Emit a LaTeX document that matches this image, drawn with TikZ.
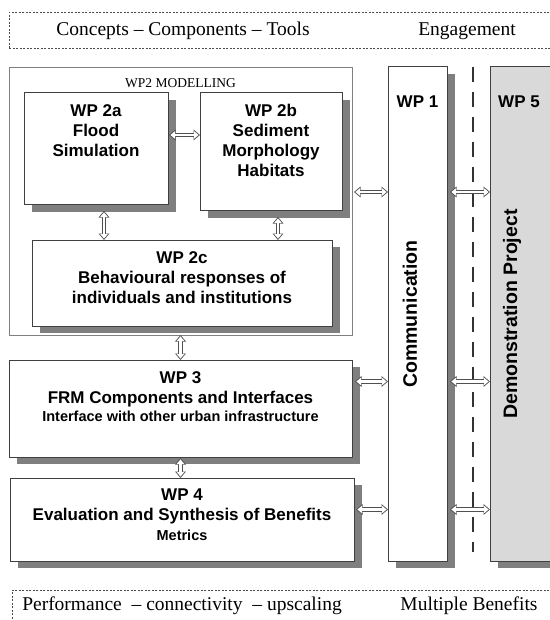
\documentclass[tikz,border=0pt]{standalone}
\usepackage{fontspec}
\setmainfont{Liberation Serif}
\setsansfont{Liberation Sans}
\usetikzlibrary{arrows.meta}
\usetikzlibrary{shadows}
\usetikzlibrary{positioning}

\definecolor{boxline}{HTML}{404040}
\definecolor{shade}{HTML}{7F7F7F}
\definecolor{demo}{HTML}{D9D9D9}
\definecolor{linkline}{HTML}{505050}

\begin{document}
\begin{tikzpicture}[x=1pt, y=-1pt,
      wpbox/.style ={rectangle, draw=boxline, line width=1pt, fill=white, anchor=north west,
                     inner sep=0pt, outer sep=0pt,
                     drop shadow={shadow xshift=8pt, shadow yshift=-7pt, fill=shade, opacity=1}},
      frame/.style ={rectangle, draw=gray, line width=0.8pt, anchor=north west, inner sep=0pt, outer sep=0pt},
      band/.style  ={rectangle, draw=black!70, line width=0.8pt, dash pattern=on 2pt off 1.5pt,
                     anchor=north west, inner sep=0pt},
      wptitle/.style={anchor=north, align=center, inner ysep=11pt,
                     font=\sffamily\bfseries\fontsize{17}{20}\selectfont},
      wpside/.style={rotate=90, font=\sffamily\bfseries\fontsize{19.5}{22}\selectfont},
      bandtext/.style={font=\fontsize{19.5}{22}\selectfont},
      link/.style  ={draw=white, line width=2.6pt, shorten <=1.4pt, shorten >=1.4pt,
                     {Triangle[width=7.4pt,length=4.6pt]}-{Triangle[width=7.4pt,length=4.6pt]},
                     preaction={draw=linkline, line width=4.4pt, shorten <=0pt, shorten >=0pt,
                     {Triangle[width=10.5pt,length=6.5pt]}-{Triangle[width=10.5pt,length=6.5pt]}}},
      divider/.style={draw=gray!40!black, line width=1.5pt, dash pattern=on 15pt off 10pt}
    ]
    \useasboundingbox (0,0) rectangle (549,620);

    % bands
    \node [band, minimum width=560pt, minimum height=36pt] (topband) at (9,12) {};
    \node [bandtext] (concepts) at (183,31) {Concepts -- Components -- Tools};
    \node [bandtext] (engage) at (467,31) {Engagement};
    \node [band, minimum width=560pt, minimum height=40pt] (botband) at (12,590) {};
    \node [bandtext] (perf) at (182,606) {Performance \ -- connectivity \ -- upscaling};
    \node [bandtext] (benefits) at (469,606) {Multiple Benefits};

    % WP2 modelling
    \node [frame, minimum width=343pt, minimum height=268pt,
           label={[anchor=north, inner sep=11pt, font=\fontsize{13.5}{15}\selectfont]north:WP2 MODELLING}] (wp2) at (9,67) {};
    \node [wpbox, minimum width=144pt, minimum height=112pt,
           label={[wptitle]north:{WP 2a\\Flood\\Simulation}}] (wp2a) at (24,93) {};
    \node [wpbox, minimum width=142pt, minimum height=118pt,
           label={[wptitle]north:{WP 2b\\Sediment\\Morphology\\Habitats}}] (wp2b) at (200,93) {};
    \node [wpbox, minimum width=300pt, minimum height=86pt,
           label={[wptitle]north:{WP 2c\\Behavioural responses of\\individuals and institutions}}] (wp2c) at (32,240) {};

    % WP3, WP4
    \node [wpbox, minimum width=343pt, minimum height=97pt,
           label={[wptitle]north:{WP 3\\FRM Components and Interfaces\\[-2pt]{\fontsize{14.5}{18}\selectfont Interface with other urban infrastructure}}}] (wp3) at (9,360) {};
    \node [wpbox, minimum width=344pt, minimum height=83pt,
           label={[wptitle]north:{WP 4\\Evaluation and Synthesis of Benefits\\{\fontsize{14.5}{18}\selectfont Metrics}}}] (wp4) at (10,478) {};

    % WP1, WP5
    \node [wpbox, minimum width=59pt, minimum height=494pt,
           label={[wptitle, inner ysep=29pt]north:WP 1}] (wp1) at (388,67) {};
    \node [wpside] (comm) at (410,314) {Communication};
    \node [wpbox, fill=demo, minimum width=70pt, minimum height=494pt] (wp5) at (490,67) {};
    \node [wptitle, inner ysep=29pt] (wp5title) at (519,67) {WP 5};
    \node [wpside] (demop) at (512,314) {Demonstration Project};

    \coordinate (divtop) at (473,67);
    \coordinate (divbot) at (473,552);
    \draw [divider] (divtop) -- (divbot);

    % links
    \draw [link] ([xshift=1pt,yshift=14pt]wp2a.east) -- ([yshift=14pt]wp2a.east -| wp2b.west);
    \draw [link] ([xshift=8pt,yshift=-6pt]wp2a.south) -- ([xshift=8pt]wp2a.south |- wp2c.north);
    \draw [link] ([xshift=7pt,yshift=-6pt]wp2b.south) -- ([xshift=7pt]wp2b.south |- wp2c.north);
    \draw [link] (wp2.south) -- (wp2.south |- wp3.north);
    \draw [link] ([yshift=-1pt]wp3.south) -- (wp3.south |- wp4.north);

    \draw [link] ([xshift=2pt,yshift=9pt]wp2.east) -- ([yshift=9pt]wp2.east -| wp1.west);
    \draw [link] ([xshift=3pt,yshift=27pt]wp3.east) -- ([yshift=27pt]wp3.east -| wp1.west);
    \draw [link] ([xshift=2pt,yshift=10pt]wp4.east) -- ([yshift=10pt]wp4.east -| wp1.west);

    \draw [link] ([xshift=3pt,yshift=9pt]wp2.east -| wp1.east) -- ([yshift=9pt]wp2.east -| wp5.west);
    \draw [link] ([xshift=3pt,yshift=27pt]wp3.east -| wp1.east) -- ([yshift=27pt]wp3.east -| wp5.west);
    \draw [link] ([xshift=3pt,yshift=10pt]wp4.east -| wp1.east) -- ([yshift=10pt]wp4.east -| wp5.west);
  \end{tikzpicture}
\end{document}
